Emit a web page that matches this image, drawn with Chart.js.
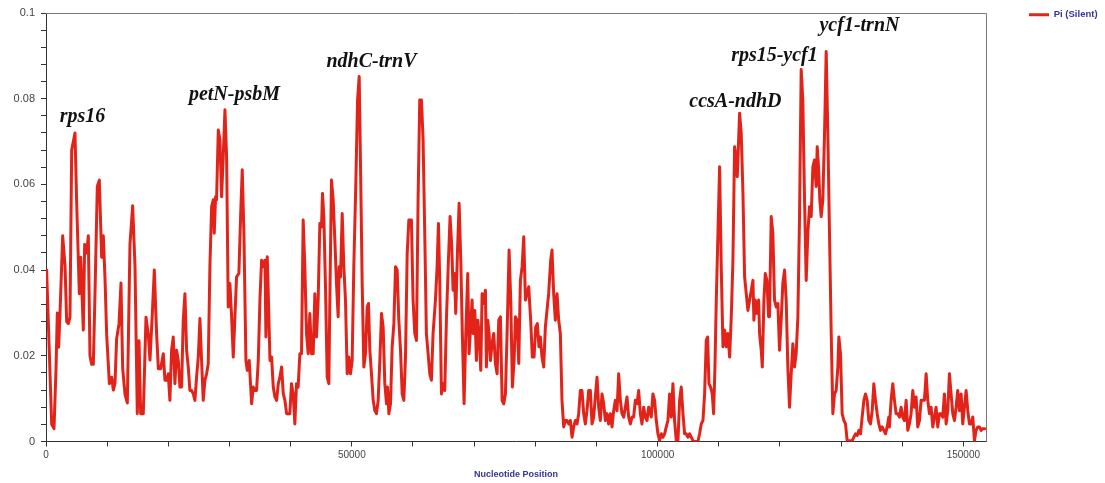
<!DOCTYPE html>
<html>
<head>
<meta charset="utf-8">
<script src="https://cdn.jsdelivr.net/npm/chart.js@4.4.1/dist/chart.umd.min.js"></script>
<style>
  html, body { margin: 0; padding: 0; background: #fff; }
</style>
</head>
<body>
<canvas id="myChart" width="1105" height="483"></canvas>
<script>
// nucleotide diversity (Pi, silent sites) along the plastome
const positions = [
  100, 930, 1310, 1640, 1850, 2070, 2290, 2730, 3110, 3380, 3650, 3920, 4200, 4470, 4740, 5010,
  5450, 5670, 5890, 6100, 6320, 6650, 6920, 7190, 7470, 7740, 8010, 8390, 8720, 9100, 9370, 9650,
  9920, 10360, 10740, 11010, 11280, 11550, 11940, 12260, 12540, 12920, 13300, 13730, 14170, 14550,
  14930, 15210, 15480, 15910, 16350, 16730, 17000, 17390, 17710, 18090, 18370, 18750, 19180,
  19450, 19720, 19990, 20260, 20535, 20810, 21080, 21350, 21630, 21900, 22170, 22440, 22720, 22990,
  23260, 23530, 23810, 24080, 24350, 24620, 24900, 25170, 25440, 25710, 25990, 26260, 26530, 26800,
  27080, 27350, 27510, 27730, 27890, 28170, 28440, 28710, 28980, 29260, 29530, 29800, 30070, 30350,
  30620, 30890, 31160, 31540, 31870, 32090, 32360, 32690, 32910, 33230, 33620, 33890, 34160, 34430,
  34710, 34980, 35250, 35520, 35800, 35960, 36180, 36400, 36620, 36890, 37160, 37430, 37710, 37980,
  38250, 38520, 38800, 39070, 39340, 39610,
  39870, 40140, 40420, 40690, 40960, 41230, 41510, 41780, 42050, 42320, 42600, 42870, 43140, 43410,
  43690, 43960, 44230, 44500, 44780, 45050, 45210, 45430, 45700, 45980, 46250, 46410, 46680, 46960,
  47230, 47500, 47770, 47940, 48160, 48430, 48700, 48970, 49250, 49520, 49790, 50060, 50330, 50660,
  50940, 51210, 51430, 51700, 51970, 52240, 52520, 52730, 52950, 53220, 53500, 53770, 54040, 54310,
  54590, 54860, 55130, 55400, 55680, 55840, 56060, 56330, 56600, 56880, 57150, 57420, 57690, 57970,
  58240, 58510, 58780, 59060, 59330,
  59750, 60020, 60300, 60570, 60840, 61110, 61390, 61660, 61930, 62200, 62480, 62750, 63020, 63290,
  63680, 63950, 64170, 64390, 64660, 64930, 65200, 65470, 65800, 66070, 66350, 66560, 66780, 67000,
  67270, 67550, 67820, 68090, 68360, 68640, 68960, 69180, 69400, 69670, 69830, 70110, 70380, 70600,
  70820, 71090, 71310, 71580, 71850, 72010, 72230, 72450, 72670, 72940, 73210, 73480, 73760, 74030,
  74300, 74580, 74850, 75120, 75390, 75720, 75990, 76260, 76540, 76760, 77030, 77300, 77570, 77850,
  78120, 78390, 78660, 78930,
  79250, 79520, 79800, 80070, 80340, 80610, 80830, 81100, 81380, 81650, 81920, 82190, 82520, 82740,
  83010, 83280, 83560, 83830, 84100, 84370, 84650, 84920, 85190, 85460, 85740, 86010, 86280, 86550,
  86830, 87100, 87370, 87640, 87920, 88190, 88460, 88730, 89010, 89280, 89550, 89820, 90100, 90370,
  90640, 90910, 91190, 91460, 91730, 92000, 92280, 92550, 92820, 93090, 93370, 93640, 93910, 94180,
  94460, 94730, 95000, 95270, 95550, 95820, 96090, 96360, 96640, 96910, 97180, 97450, 97730, 98000,
  98270, 98540,
  98970, 99240, 99510, 99790, 100060, 100330, 100600, 100880, 101150, 101420, 101690, 101970, 102240,
  102510, 102780, 103060, 103330, 103600, 103870, 104150, 104420, 104690, 104960, 105240, 105510,
  105780, 106050, 106330, 106600, 106870, 107140, 107420, 107690, 107960, 108180, 108400, 108670,
  108940, 109160, 109380, 109600, 109870, 110140, 110410, 110690, 110960, 111230, 111500, 111780,
  112050, 112320, 112590, 112870, 113030, 113190, 113410, 113680, 113960, 114230, 114500, 114770,
  115050, 115320, 115590, 115750, 115970, 116240, 116520, 116680, 116950, 117120, 117390, 117610,
  117880, 118150,
  118300, 118580, 118850, 119120, 119390, 119670, 119940, 120210, 120480, 120760, 121030, 121300,
  121570, 121850, 122120, 122390, 122660, 122940, 123210, 123480, 123750, 124030, 124300, 124570,
  124840, 125120, 125390, 125660, 125930, 126100, 126320, 126530, 126750, 127020, 127300, 127570,
  127840, 128110, 128390, 128660, 128930, 129200, 129480, 129640, 129910, 130180, 130460, 130730,
  131000, 131270, 131550, 131820, 132090, 132360, 132640, 132910, 133180, 133450, 133730, 134000,
  134270, 134540, 134820, 135090, 135360, 135630, 135910, 136180, 136450, 136720, 137000, 137270,
  137540, 137810,
  137910, 138180, 138460, 138730, 139000, 139270, 139550, 139820, 140090, 140360, 140640, 140910,
  141180, 141450, 141730, 142000, 142270, 142540, 142820, 143090, 143360, 143630, 143910, 144180,
  144450, 144720, 145000, 145270, 145540, 145810, 146090, 146360, 146630, 146900, 147180, 147450,
  147720, 147990, 148270, 148540, 148810, 149080, 149360, 149630, 149900, 150170, 150450, 150720,
  150990, 151260, 151540, 151810, 152080, 152350, 152630, 152900, 153170, 153500
];

const piSilent = [
  0.040, 0.004, 0.003, 0.017, 0.030, 0.022, 0.030, 0.048, 0.041, 0.028, 0.0275, 0.029, 0.068, 0.070, 0.072, 0.056,
  0.0345, 0.043, 0.0345, 0.026, 0.046, 0.044, 0.048, 0.020, 0.018, 0.018, 0.0345, 0.0595, 0.061, 0.043, 0.048, 0.038,
  0.025, 0.0135, 0.015, 0.012, 0.0135, 0.024, 0.0275, 0.037, 0.017, 0.011, 0.009, 0.046, 0.055, 0.041,
  0.0065, 0.0235, 0.0065, 0.0065, 0.029, 0.025, 0.019, 0.030, 0.040, 0.025, 0.017, 0.017, 0.0205,
  0.0143, 0.0143, 0.0158, 0.0096, 0.0213, 0.0244, 0.0135, 0.0213, 0.0189, 0.0127, 0.0127, 0.0283, 0.0345, 0.0213,
  0.0174, 0.0119, 0.0119, 0.0111, 0.0096, 0.0150, 0.0197, 0.0287, 0.0189, 0.0096, 0.0143, 0.0158, 0.0182, 0.0408,
  0.0548, 0.0564, 0.0486, 0.0571, 0.0564, 0.0727, 0.0704, 0.0571, 0.0665, 0.0774, 0.0665, 0.0314, 0.0369, 0.0291,
  0.0197, 0.0291, 0.0384, 0.0392, 0.0548, 0.0634, 0.0486, 0.0189, 0.0166, 0.0189, 0.0088, 0.0127, 0.0119, 0.0119,
  0.0189, 0.0330, 0.0423, 0.0408, 0.0423, 0.0244, 0.0431, 0.0314, 0.0189, 0.0197, 0.0127, 0.0104, 0.0096, 0.0135,
  0.0150, 0.0174, 0.0111, 0.0096, 0.0065, 0.0065,
  0.0065, 0.0135, 0.0111, 0.0041, 0.0135, 0.0127, 0.0205, 0.0205, 0.0517, 0.0408, 0.0252, 0.0205, 0.0299, 0.0205,
  0.0205, 0.0345, 0.0244, 0.0330, 0.0509, 0.0501, 0.0579, 0.0525, 0.0361, 0.0150, 0.0135, 0.0330, 0.0610, 0.0564,
  0.0470, 0.0369, 0.0291, 0.0408, 0.0384, 0.0532, 0.0408, 0.0330, 0.0158, 0.0197, 0.0158, 0.0189, 0.0408, 0.0602,
  0.0797, 0.0852, 0.0641, 0.0369, 0.0174, 0.0205, 0.0314, 0.0322, 0.0213, 0.0158, 0.0096, 0.0072, 0.0065, 0.0096,
  0.0189, 0.0299, 0.0267, 0.0135, 0.0088, 0.0127, 0.0065, 0.0088, 0.0221, 0.0275, 0.0408, 0.0400, 0.0283, 0.0213,
  0.0111, 0.0096, 0.0197, 0.0439, 0.0517,
  0.0517, 0.0330, 0.0252, 0.0236, 0.0564, 0.0797, 0.0797, 0.0704, 0.0486, 0.0252, 0.0205, 0.0158, 0.0143, 0.0252,
  0.0330, 0.0408, 0.0509, 0.0369, 0.0111, 0.0135, 0.0119, 0.0283, 0.0423, 0.0525, 0.0454, 0.0353, 0.0392, 0.0299,
  0.0439, 0.0556, 0.0423, 0.0244, 0.0088, 0.0252, 0.0392, 0.0205, 0.0260, 0.0330, 0.0252, 0.0306, 0.0189, 0.0283,
  0.0252, 0.0166, 0.0345, 0.0322, 0.0353, 0.0174, 0.0283, 0.0252, 0.0189, 0.0228, 0.0252, 0.0182, 0.0158, 0.0283,
  0.0291, 0.0096, 0.0088, 0.0111, 0.0252, 0.0447, 0.0330, 0.0127, 0.0189, 0.0291, 0.0283, 0.0182, 0.0376, 0.0408,
  0.0478, 0.0330, 0.0345, 0.0361,
  0.0283, 0.0197, 0.0197, 0.0267, 0.0275, 0.0221, 0.0244, 0.0197, 0.0174, 0.0267, 0.0306, 0.0345, 0.0423, 0.0447,
  0.0345, 0.0283, 0.0345, 0.0283, 0.0252, 0.0096, 0.0034, 0.0049, 0.0049, 0.0041, 0.0049, 0.0010, 0.0034, 0.0049,
  0.0041, 0.0065, 0.0119, 0.0119, 0.0065, 0.0041, 0.0072, 0.0119, 0.0119, 0.0041, 0.0057, 0.0104, 0.0150, 0.0080,
  0.0049, 0.0111, 0.0088, 0.0049, 0.0065, 0.0041, 0.0065, 0.0034, 0.0072, 0.0096, 0.0072, 0.0158, 0.0096, 0.0065,
  0.0057, 0.0080, 0.0104, 0.0057, 0.0041, 0.0057, 0.0057, 0.0096, 0.0088, 0.0119, 0.0065, 0.0041, 0.0080, 0.0057,
  0.0049, 0.0080,
  0.0057, 0.0111, 0.0096, 0.0049, 0.0018, 0.0002, 0.0018, 0.0010, 0.0018, 0.0034, 0.0049, 0.0111, 0.0057,
  0.0135, 0.0049, 0.0002, 0, 0.0096, 0.0127, 0.0065, 0.0018, 0.0018, 0.0010, 0.0018, 0.0010,
  0.0002, 0, 0, 0, 0.0018, 0.0041, 0.0049, 0.0111, 0.0236, 0.0244, 0.0135, 0.0127,
  0.0111, 0.0065, 0.0174, 0.0330, 0.0486, 0.0641, 0.0408, 0.0221, 0.0260, 0.0221, 0.0252, 0.0197,
  0.0291, 0.0423, 0.0688, 0.0657, 0.0618, 0.0680, 0.0766, 0.0719, 0.0579, 0.0384, 0.0345, 0.0306,
  0.0330, 0.0353, 0.0376, 0.0283, 0.0330, 0.0299, 0.0330, 0.0252, 0.0213, 0.0174, 0.0330, 0.0392,
  0.0376, 0.0291,
  0.0291, 0.0525, 0.0486, 0.0330, 0.0314, 0.0322, 0.0213, 0.0283, 0.0369, 0.0400, 0.0330, 0.0174,
  0.0080, 0.0158, 0.0228, 0.0174, 0.0205, 0.0291, 0.0525, 0.0868, 0.0797, 0.0564, 0.0376, 0.0486,
  0.0548, 0.0525, 0.0641, 0.0657, 0.0595, 0.0688, 0.0641, 0.0564, 0.0525, 0.0564, 0.0719, 0.0910,
  0.0719, 0.0486, 0.0252, 0.0065, 0.0111, 0.0119, 0.0174, 0.0244, 0.0205, 0.0065, 0.0049, 0.0041,
  0.0002, 0.0002, 0.0002, 0.0002, 0.0010, 0.0018, 0.0014, 0.0026, 0.0018, 0.0057, 0.0096, 0.0111,
  0.0096, 0.0049, 0.0041, 0.0072, 0.0135, 0.0096, 0.0065, 0.0041, 0.0026, 0.0034, 0.0026, 0.0018,
  0.0034, 0.0057,
  0.0034, 0.0096, 0.0135, 0.0096, 0.0065, 0.0065, 0.0057, 0.0080, 0.0057, 0.0049, 0.0096, 0.0026,
  0.0041, 0.0065, 0.0119, 0.0080, 0.0104, 0.0034, 0.0049, 0.0096, 0.0096, 0.0096, 0.0158, 0.0096,
  0.0065, 0.0080, 0.0034, 0.0057, 0.0080, 0.0034, 0.0065, 0.0065, 0.0057, 0.0111, 0.0041, 0.0072,
  0.0158, 0.0111, 0.0065, 0.0049, 0.0080, 0.0119, 0.0072, 0.0111, 0.0041, 0.0080, 0.0119, 0.0072,
  0.0041, 0.0041, 0.0057, 0.0002, 0.0026, 0.0034, 0.0034, 0.0026, 0.0030, 0.0030
];

// axis ticks (minor ticks carry no label)
const xTicks = [0, 10000, 20000, 30000, 40000, 50000, 60000, 70000, 80000, 90000, 100000,
  110000, 120000, 130000, 140000, 150000];
const xLabelled = [0, 50000, 100000, 150000];
const yLabelled = [0, 0.02, 0.04, 0.06, 0.08, 0.1];

// region labels and where they sit (position, Pi)
const geneNames = ['rps16', 'petN-psbM', 'ndhC-trnV', 'ccsA-ndhD', 'rps15-ycf1', 'ycf1-trnN'];
const geneX = [5970, 30820, 53220, 112730, 119110, 133010];
const geneY = [0.0758, 0.0810, 0.0887, 0.0793, 0.0901, 0.0969];

const xMax = 153700;
const lineRed = '#e2231a';
const axisBlue = '#33339a';

const geneLabelPlugin = {
  id: 'geneLabels',
  afterDatasetsDraw(chart) {
    const { ctx, scales } = chart;
    ctx.save();
    ctx.font = 'italic bold 20px "Liberation Serif", "DejaVu Serif", serif';
    ctx.fillStyle = '#111111';
    ctx.textAlign = 'center';
    ctx.textBaseline = 'middle';
    geneNames.forEach((name, i) => {
      ctx.fillText(name, scales.x.getPixelForValue(geneX[i]), scales.y.getPixelForValue(geneY[i]));
    });
    ctx.restore();
  }
};

// top + right edges of the plot frame; legend moved out beside the frame
const framePlugin = {
  id: 'frame',
  afterLayout(chart) {
    const lg = chart.legend;
    const pad = lg.options.labels.padding;
    lg.left = chart.chartArea.right + 43 - pad;
    lg.top = 10 - pad;
    lg.right = chart.width;
    lg.bottom = lg.top + 30;
    lg.width = lg.right - lg.left;
    lg.height = 30;
  },
  afterDraw(chart) {
    const { ctx, chartArea: a } = chart;
    ctx.save();
    ctx.strokeStyle = '#7a7a7a';
    ctx.lineWidth = 1;
    ctx.beginPath();
    ctx.moveTo(a.left, a.top + 0.5);
    ctx.lineTo(a.right + 0.5, a.top + 0.5);
    ctx.lineTo(a.right + 0.5, a.bottom);
    ctx.stroke();
    ctx.restore();
  }
};

const ctx = document.getElementById('myChart').getContext('2d');

new Chart(ctx, {
  type: 'line',
  data: {
    datasets: [{
      label: 'Pi (Silent)',
      data: positions.map((p, i) => ({ x: p, y: piSilent[i] })),
      borderColor: lineRed,
      backgroundColor: lineRed,
      borderWidth: 3,
      borderJoinStyle: 'round',
      borderCapStyle: 'round',
      pointRadius: 0,
      tension: 0,
      pointStyle: 'line'
    }]
  },
  options: {
    responsive: false,
    animation: false,
    devicePixelRatio: 1,
    layout: { padding: { top: 13, right: 118, left: 0, bottom: 0 } },
    scales: {
      x: {
        type: 'linear',
        min: 0,
        max: xMax,
        border: { color: '#333333' },
        grid: { drawOnChartArea: false, drawTicks: true, tickLength: 5, color: '#333333' },
        afterBuildTicks: s => { s.ticks = xTicks.map(v => ({ value: v })); },
        ticks: {
          autoSkip: false,
          maxRotation: 0,
          padding: 3,
          color: '#444444',
          font: { family: 'Liberation Sans', size: 10 },
          callback: v => (xLabelled.includes(v) ? String(v) : '')
        },
        title: {
          display: true,
          text: 'Nucleotide Position',
          color: axisBlue,
          font: { family: 'Liberation Sans', size: 9, weight: 'bold' },
          padding: { top: 0, bottom: 3 }
        },
        afterFit: s => { s.height = 41.5; }
      },
      y: {
        min: 0,
        max: 0.1,
        border: { color: '#333333' },
        grid: { drawOnChartArea: false, drawTicks: true, tickLength: 5, color: '#333333' },
        ticks: {
          stepSize: 0.004,
          includeBounds: false,
          autoSkip: false,
          padding: 6,
          color: '#444444',
          font: { family: 'Liberation Sans', size: 11 },
          callback: v => {
            const hit = yLabelled.find(t => Math.abs(t - v) < 1e-6);
            return hit === undefined ? '' : String(hit);
          }
        },
        afterFit: s => { s.width = 46; }
      }
    },
    plugins: {
      legend: {
        position: 'right',
        align: 'start',
        maxWidth: 1,
        labels: {
          usePointStyle: true,
          pointStyleWidth: 20,
          padding: 5,
          color: axisBlue,
          font: { family: 'Liberation Sans', size: 9.5, weight: 'bold' }
        }
      },
      tooltip: { enabled: false }
    }
  },
  plugins: [geneLabelPlugin, framePlugin]
});
</script>
</body>
</html>
